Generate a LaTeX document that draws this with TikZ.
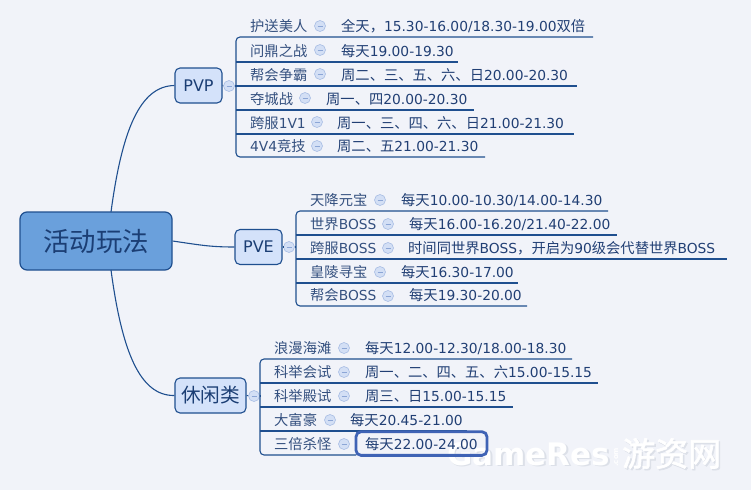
\documentclass[tikz,border=0pt]{standalone}
\usepackage{fontspec}
\setmainfont{DejaVu Sans}
\newfontfamily\cjk[Scale=1.035]{Noto Sans CJK SC}
\newfontfamily\cjkb[FakeBold=2]{Noto Sans CJK SC}
\usetikzlibrary{fit}
\definecolor{bg}{HTML}{F1F3F9}
\definecolor{lineblue}{HTML}{1F4F8F}
\definecolor{rootfill}{HTML}{6AA0DC}
\definecolor{catfill}{HTML}{D4E2FA}
\definecolor{txtdark}{HTML}{1B3E74}
\definecolor{txtlab}{HTML}{34507F}
\definecolor{txtval}{HTML}{213F74}
\definecolor{collfill}{HTML}{D3DFF5}
\definecolor{collline}{HTML}{A8BDE4}
\definecolor{collminus}{HTML}{8CA6D6}
\definecolor{hlblue}{HTML}{3F63B5}
\definecolor{wmshadow}{HTML}{DCE0E8}
\newcommand\zhs[1]{{\cjk #1}}
\tikzset{
  conn/.style={draw=lineblue, line width=1.1pt},
  rootbox/.style={rectangle, rounded corners=7pt, draw=lineblue, line width=1.2pt, fill=rootfill,
    minimum width=152pt, minimum height=58pt, inner sep=0pt, text=txtdark, font=\cjk\fontsize{25.5}{30}\selectfont},
  catbox/.style={rectangle, rounded corners=5pt, draw=lineblue, line width=1.1pt, fill=catfill,
    minimum height=35pt, inner sep=0pt, text=txtdark},
  lab/.style={anchor=base west, inner sep=0pt, text=txtlab, font=\fontsize{13.8}{16}\selectfont},
  val/.style={anchor=base west, inner sep=0pt, text=txtval, font=\fontsize{13.8}{16}\selectfont},
  coll/.style={circle, minimum size=11pt, inner sep=0pt, fill=collfill, draw=collline, line width=0.6pt,
    path picture={\draw[collminus, line width=0.9pt] ([xshift=-2.5pt]path picture bounding box.center) -- ([xshift=2.5pt]path picture bounding box.center);}},
  hlbox/.style={draw=hlblue, line width=2.8pt, rounded corners=5pt, inner xsep=9pt, inner ysep=5pt},
}
\begin{document}
\begin{tikzpicture}[x=1pt, y=-1pt]
\fill[bg] (0,0) rectangle (751,490);
\useasboundingbox (0,0) rectangle (751,490);

% watermark
\node[anchor=base west, inner sep=0pt, text=wmshadow, font=\bfseries\fontsize{31}{34}\selectfont] at (448.5,466.5) {GameRes};
\node[anchor=base west, inner sep=0pt, text=white, font=\bfseries\fontsize{31}{34}\selectfont] (wm1) at (447,465) {GameRes};
\node[anchor=base west, inner sep=0pt, text=white, font=\bfseries\fontsize{7}{8}\selectfont, rotate=90] (wm2) at (618,467) {.com};
\node[anchor=base west, inner sep=0pt, text=wmshadow, font=\cjkb\fontsize{33}{36}\selectfont] at (623.5,467.5) {游资网};
\node[anchor=base west, inner sep=0pt, text=white, font=\cjkb\fontsize{33}{36}\selectfont] (wm3) at (622,466) {游资网};

% root and categories
\node[rootbox] (root) at (96,241) {活动玩法};
\node[catbox, minimum width=47pt, font=\fontsize{16}{18}\selectfont] (pvp) at (198.5,85.5) {PVP};
\node[catbox, minimum width=47pt, font=\fontsize{16}{18}\selectfont] (pve) at (258.5,247) {PVE};
\node[catbox, minimum width=71pt, font=\cjk\fontsize{19}{22}\selectfont] (xx) at (210.5,395.5) {休闲类};

\draw[conn] (111,212) .. controls (122,130) and (140,86) .. (pvp.west);
\draw[conn] (111,270) .. controls (122,352) and (140,396) .. (xx.west);
\draw[conn] (root.east) .. controls (200,245) and (210,247) .. (pve.west);

% ---------------- PVP
\node[coll] (pvpc) at (229,86) {};
\coordinate (pvpb) at (236,86);
\draw[conn] (pvp.east) -- (pvpc);
\draw[conn] (pvpc) -- (pvpb);
\coordinate (a1e) at (593,37);
\coordinate (a6e) at (485,157);
\draw[conn, rounded corners=4pt] (a1e) -- (236,37) -- (236,157) -- (a6e);
\draw[conn] (236,62) -- (458,62);
\draw[conn] (236,86) -- (577,86);
\draw[conn] (236,110) -- (474,110);
\draw[conn] (236,134) -- (574,134);

\node[lab] (a1) at (250,31) {\zhs{护送美人}};
\node[coll] (a1c) at (320,26) {};
\node[val] (a1v) at (341,31) {\zhs{全天，}15.30-16.00/18.30-19.00\zhs{双倍}};
\node[lab] (a2) at (250,56) {\zhs{问鼎之战}};
\node[coll] (a2c) at (320,50) {};
\node[val] (a2v) at (341,56) {\zhs{每天}19.00-19.30};
\node[lab] (a3) at (250,80) {\zhs{帮会争霸}};
\node[coll] (a3c) at (320,74) {};
\node[val] (a3v) at (341,80) {\zhs{周二、三、五、六、日}20.00-20.30};
\node[lab] (a4) at (250,104) {\zhs{夺城战}};
\node[coll] (a4c) at (305,98) {};
\node[val] (a4v) at (326,104) {\zhs{周一、四}20.00-20.30};
\node[lab] (a5) at (250,128) {\zhs{跨服}1V1};
\node[coll] (a5c) at (317,122) {};
\node[val] (a5v) at (337,128) {\zhs{周一、三、四、六、日}21.00-21.30};
\node[lab] (a6) at (250,151) {4V4\zhs{竞技}};
\node[coll] (a6c) at (317,146) {};
\node[val] (a6v) at (337,151) {\zhs{周二、五}21.00-21.30};

% ---------------- PVE
\node[coll] (pvec) at (289,247) {};
\coordinate (pveb) at (296,247);
\draw[conn] (pve.east) -- (pvec);
\draw[conn] (pvec) -- (pveb);
\coordinate (b1e) at (608,211);
\coordinate (b5e) at (527,306);
\draw[conn, rounded corners=4pt] (b1e) -- (296,211) -- (296,306) -- (b5e);
\draw[conn] (296,235) -- (617,235);
\draw[conn] (296,259) -- (727,259);
\draw[conn] (296,283) -- (518,283);

\node[lab] (b1) at (310,205) {\zhs{天降元宝}};
\node[coll] (b1c) at (380,200) {};
\node[val] (b1v) at (401,205) {\zhs{每天}10.00-10.30/14.00-14.30};
\node[lab] (b2) at (310,229) {\zhs{世界}BOSS};
\node[coll] (b2c) at (388,224) {};
\node[val] (b2v) at (409,229) {\zhs{每天}16.00-16.20/21.40-22.00};
\node[lab] (b3) at (310,253) {\zhs{跨服}BOSS};
\node[coll] (b3c) at (388,248) {};
\node[val] (b3v) at (408,253) {\zhs{时间同世界}BOSS\zhs{，开启为}90\zhs{级会代替世界}BOSS};
\node[lab] (b4) at (310,277) {\zhs{皇陵寻宝}};
\node[coll] (b4c) at (380,272) {};
\node[val] (b4v) at (401,277) {\zhs{每天}16.30-17.00};
\node[lab] (b5) at (310,300) {\zhs{帮会}BOSS};
\node[coll] (b5c) at (388,296) {};
\node[val] (b5v) at (409,300) {\zhs{每天}19.30-20.00};

% ---------------- 休闲类
\node[coll] (xxc) at (254,396) {};
\coordinate (xxb) at (260,396);
\draw[conn] (xx.east) -- (xxc);
\draw[conn] (xxc) -- (xxb);
\coordinate (c1e) at (572,359);
\coordinate (c5e) at (356,455);
\draw[conn, rounded corners=4pt] (c1e) -- (260,359) -- (260,455) -- (c5e);
\draw[conn] (260,383) -- (598,383);
\draw[conn] (260,407) -- (513,407);
\draw[conn] (260,431) -- (467,431);

\node[lab] (c1) at (274,353) {\zhs{浪漫海滩}};
\node[coll] (c1c) at (344,348) {};
\node[val] (c1v) at (365,353) {\zhs{每天}12.00-12.30/18.00-18.30};
\node[lab] (c2) at (274,377) {\zhs{科举会试}};
\node[coll] (c2c) at (344,372) {};
\node[val] (c2v) at (365,377) {\zhs{周一、二、四、五、六}15.00-15.15};
\node[lab] (c3) at (274,401) {\zhs{科举殿试}};
\node[coll] (c3c) at (344,396) {};
\node[val] (c3v) at (365,401) {\zhs{周三、日}15.00-15.15};
\node[lab] (c4) at (274,425) {\zhs{大富豪}};
\node[coll] (c4c) at (330,420) {};
\node[val] (c4v) at (350,425) {\zhs{每天}20.45-21.00};
\node[lab] (c5) at (274,449) {\zhs{三倍杀怪}};
\node[coll] (c5c) at (344,444) {};
\node[val] (c5v) at (365,449) {\zhs{每天}22.00-24.00};
\node[hlbox, fit=(c5v)] (c5h) {};
\end{tikzpicture}
\end{document}
